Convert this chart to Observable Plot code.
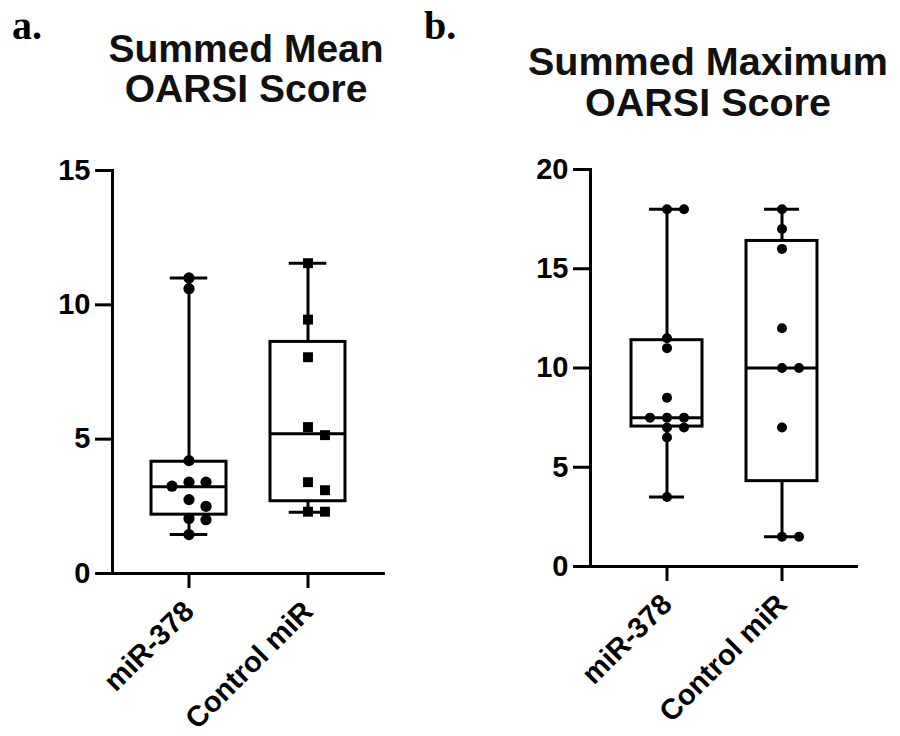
<!DOCTYPE html>
<html><head><meta charset="utf-8">
<script src="https://cdn.jsdelivr.net/npm/d3@7"></script>
<script src="https://cdn.jsdelivr.net/npm/@observablehq/plot@0.6"></script>
<style>
body{margin:0;background:#fff;}
#root{position:relative;width:900px;height:736px;overflow:hidden;font-family:"Liberation Sans",Arial,sans-serif;background:#fff;}
.panel{position:absolute;top:0;width:450px;height:736px;}
.lbl{position:absolute;font-family:"Liberation Serif","Times New Roman",serif;font-weight:bold;font-size:40px;line-height:40px;color:#000;}
.title{position:absolute;font-weight:bold;text-align:center;width:440px;color:#111;white-space:nowrap;}
</style></head>
<body><div id="root">
<div id="pa" class="panel" style="left:0"></div>
<div id="pb" class="panel" style="left:450px"></div>
<div class="lbl" style="left:12px;top:6px">a.</div>
<div class="lbl" style="left:424px;top:6px">b.</div>
<div class="title" style="left:26px;top:29px;font-size:39px;line-height:39px">Summed Mean</div>
<div class="title" style="left:26px;top:69px;font-size:39px;line-height:39px">OARSI Score</div>
<div class="title" style="left:488px;top:41.5px;font-size:39.5px;line-height:39.5px">Summed Maximum</div>
<div class="title" style="left:488px;top:82.5px;font-size:39.5px;line-height:39.5px">OARSI Score</div>
</div>
<script>
// ---- data ----
const groups = ["miR-378", "Control miR"];
// Panel a: Summed Mean OARSI Score (individual animals)
const meanMir = [11, 10.6, 4.2, 3.4, 3.4, 3.25, 2.75, 2.5, 2.05, 2.0, 1.45];
const meanCtrl = [11.55, 9.45, 8.05, 5.45, 5.15, 3.4, 3.1, 2.3, 2.3];
// box summaries: min, q1, median, q3, max
const meanBoxMir = [1.45, 2.19, 3.23, 4.16, 11];
const meanBoxCtrl = [2.28, 2.69, 5.2, 8.62, 11.55];
const meanTicks = [0, 5, 10, 15];
// Panel b: Summed Maximum OARSI Score
const maxMir = [18, 18, 11.5, 11, 8.5, 7.5, 7.5, 7.5, 7, 7, 6.5, 3.5];
const maxCtrl = [18, 17, 16, 12, 10, 10, 7, 1.5, 1.5];
const maxBoxMir = [3.5, 7.05, 7.5, 11.4, 18];
const maxBoxCtrl = [1.5, 4.3, 10, 16.4, 18];
const maxTicks = [0, 5, 10, 15, 20];

function swarm(values, group, pxPerUnit, minPx) {
  const placed = [];
  const sorted = values.slice().sort((a, b) => b - a);
  for (const v of sorted) {
    for (const s of [0, 1, -1, 2, -2]) {
      if (!placed.some(p => p.slot === s && Math.abs(p.value - v) * pxPerUnit < minPx)) {
        placed.push({group, value: v, slot: s});
        break;
      }
    }
  }
  return placed;
}

function panel(o) {
  const {series, boxes, ticks, width, height, mt, mb, ml, mr, xRange, pi, symbols} = o;
  const pxPerUnit = (height - mt - mb) / (ticks[ticks.length - 1] - ticks[0]);
  const pts = series.flatMap((vals, i) => swarm(vals, groups[i], pxPerUnit, 9));
  const boxData = boxes.map((b, i) => ({group: groups[i], min: b[0], q1: b[1], med: b[2], q3: b[3], max: b[4]}));
  const bw = (xRange[1] - xRange[0]) / (2 - pi) * (1 - pi);
  const capInset = bw / 4;
  const sw = 3;
  const dotMarks = [-2, -1, 0, 1, 2].map(s => Plot.dot(pts.filter(d => d.slot === s), {
    x: "group", y: "value", dx: s * 17, r: symbols ? 5.6 : 5, fill: "black", stroke: "none",
    symbol: symbols ? "group" : "circle"
  }));
  return Plot.plot({
    width, height, marginTop: mt, marginBottom: mb, marginLeft: ml, marginRight: mr,
    style: {fontFamily: "'Liberation Sans', Arial, sans-serif", fontWeight: "bold", fontSize: "29px", color: "#000", background: "transparent", overflow: "visible"},
    x: {type: "band", domain: groups, range: xRange, paddingInner: pi, paddingOuter: 0, label: null},
    y: {domain: [ticks[0], ticks[ticks.length - 1]], label: null},
    symbol: symbols ? {domain: groups, range: symbols} : undefined,
    marks: [
      Plot.ruleX(boxData, {x: "group", y1: "min", y2: "q1", strokeWidth: sw}),
      Plot.ruleX(boxData, {x: "group", y1: "q3", y2: "max", strokeWidth: sw}),
      Plot.barY(boxData, {x: "group", y1: "q1", y2: "q3", fill: "white", stroke: "black", strokeWidth: sw}),
      Plot.tickY(boxData, {x: "group", y: "med", strokeWidth: sw}),
      Plot.tickY(boxData, {x: "group", y: "min", strokeWidth: sw, insetLeft: capInset, insetRight: capInset}),
      Plot.tickY(boxData, {x: "group", y: "max", strokeWidth: sw, insetLeft: capInset, insetRight: capInset}),
      ...dotMarks,
      Plot.axisY({ticks, tickSize: 17, tickPadding: 5, fontSize: 29, fontWeight: "bold", strokeWidth: sw, label: null, tickFormat: d3.format("d")}),
      Plot.axisX({tickSize: 15, tickPadding: 18, tickRotate: -45, fontSize: 29, fontWeight: "bold", strokeWidth: sw, label: null}),
      Plot.ruleY([ticks[0]], {strokeWidth: sw}),
      Plot.frame({anchor: "left", strokeWidth: sw})
    ]
  });
}

document.getElementById("pa").append(panel({
  series: [meanMir, meanCtrl], boxes: [meanBoxMir, meanBoxCtrl], ticks: meanTicks,
  width: 450, height: 736, mt: 170, mb: 163, ml: 112, mr: 65,
  xRange: [150.5, 344.5], pi: 0.37, symbols: ["circle", "square"]
}));
document.getElementById("pb").append(panel({
  series: [maxMir, maxCtrl], boxes: [maxBoxMir, maxBoxCtrl], ticks: maxTicks,
  width: 450, height: 736, mt: 169, mb: 170, ml: 140, mr: 42,
  xRange: [180, 368], pi: 0.379, symbols: null
}));
</script>
</body></html>
